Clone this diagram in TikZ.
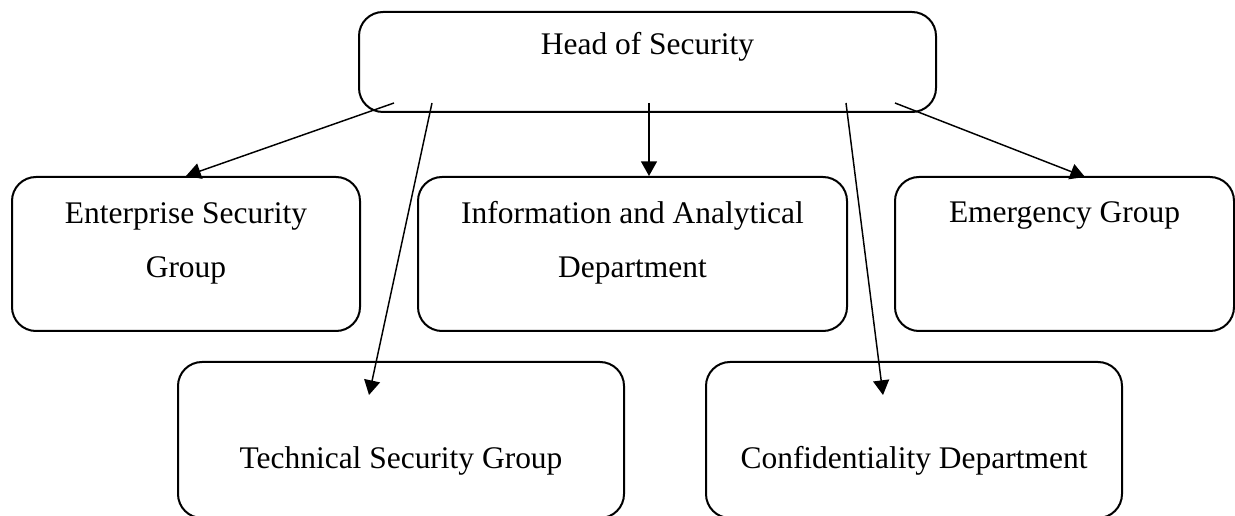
\documentclass[tikz,border=0pt]{standalone}
\usepackage{fontspec}
\setmainfont{Liberation Serif}
\usepackage{tikz}
\usetikzlibrary{positioning, arrows.meta}
\tikzset{x=0.75pt, y=-0.75pt, % One unit is one pixel of the page
box/.style={ % Sets the properties for each unit
draw, line width=1.5pt,
rounded corners=18pt},
lbl/.style={ % Text inside a unit
anchor=base, align=center,
font=\fontsize{23.6}{41}\selectfont},
link/.style={ % Sets the properties for each link
draw, -{Triangle[length=11pt, width=12pt]},
line width=1.1pt}}

\begin{document}
\begin{tikzpicture}
    \useasboundingbox (0,0) rectangle (1235,516);

    \node[box, minimum width=432.75pt, minimum height=75pt] (head) at (647.5,62) {};
    \node[box, minimum width=261pt, minimum height=115.5pt] (esg) at (186,254) {};
    \node[box, minimum width=321.75pt, minimum height=115.5pt] (iad) at (632.5,254) {};
    \node[box, minimum width=254.25pt, minimum height=115.5pt] (emg) at (1064.5,254) {};
    \node[box, minimum width=334.5pt, minimum height=117pt] (tsg) at (401,440) {};
    \node[box, minimum width=312pt, minimum height=117pt] (cfd) at (914,440) {};

    \node[lbl] (headtxt) at (647.5,55) {Head of Security};
    \node[lbl] (esgtxt) at (186,278) {Enterprise Security\\Group};
    \node[lbl] (iadtxt) at (632.5,278) {Information and Analytical\\Department};
    \node[lbl] (emgtxt) at (1064.5,223) {Emergency Group};
    \node[lbl] (tsgtxt) at (401,468) {Technical Security Group};
    \node[lbl] (cfdtxt) at (914,468) {Confidentiality Department};

    \coordinate (h1) at (394,103);
    \coordinate (h2) at (432,103);
    \coordinate (h3) at (649,103);
    \coordinate (h4) at (846,103);
    \coordinate (h5) at (895,103);
    \coordinate (t2) at (369,395);
    \coordinate (t4) at (883,395);
    \coordinate (t5) at (1085,177);

    \draw[link] (h1) -- (esg.north);
    \draw[link] (h2) -- (t2);
    \draw[link] (h3) -- (h3 |- iad.north);
    \draw[link] (h4) -- (t4);
    \draw[link] (h5) -- (t5);

\end{tikzpicture}
\end{document}
